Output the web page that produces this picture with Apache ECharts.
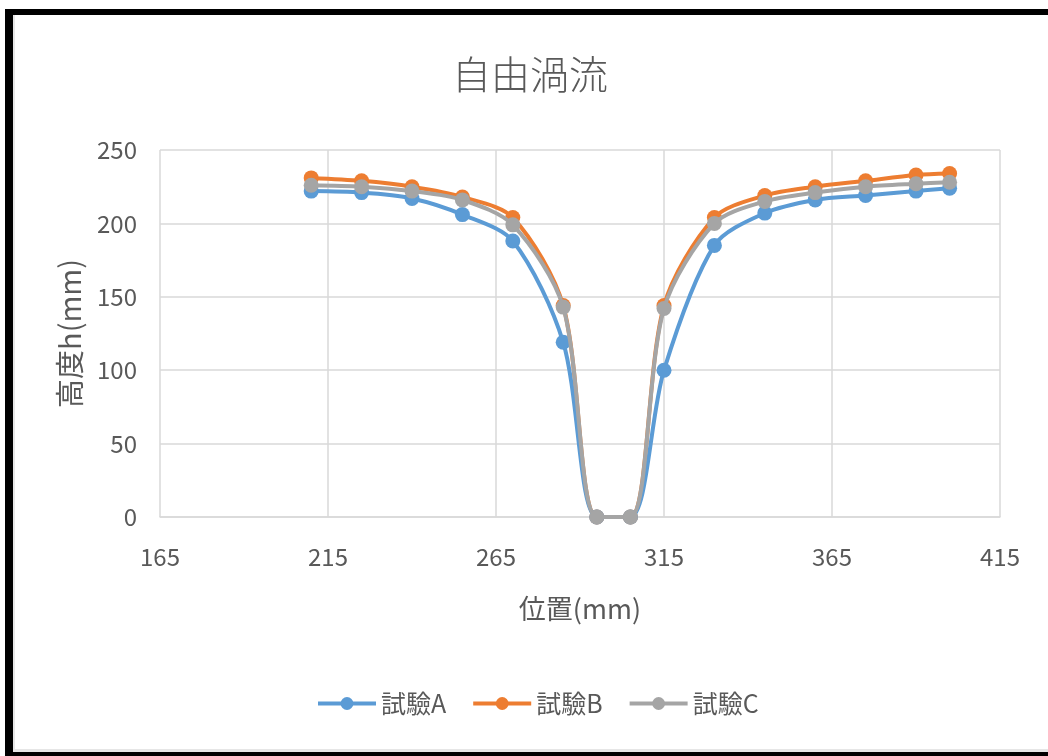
<!DOCTYPE html>
<html>
<head>
<meta charset="utf-8">
<script src="https://cdn.jsdelivr.net/npm/echarts@6/dist/echarts.min.js"></script>
<style>
html,body{margin:0;padding:0;background:#fff;}
#chart{width:1048px;height:756px;}
</style>
</head>
<body>
<div id="chart"></div>
<script>
const positions = [210, 225, 240, 255, 270, 285, 295, 305, 315, 330, 345, 360, 375, 390, 400];
const seriesNames = ['試驗A', '試驗B', '試驗C'];
const valuesA = [222, 221, 217, 206, 188, 119, 0, 0, 100, 185, 207, 216, 219, 222, 224];
const valuesB = [231, 229, 225, 218, 204, 144, 0, 0, 144, 204, 219, 225, 229, 233, 234];
const valuesC = [226, 225, 222, 216, 199, 143, 0, 0, 142, 200, 215, 221, 225, 227, 228];
const colors = ['#5B9BD5', '#ED7D31', '#A5A5A5'];

const chart = echarts.init(document.getElementById('chart'));
const font = "'Noto Sans CJK JP', 'Noto Sans', sans-serif";
const mk = (name, vals, color, z) => ({
  name: name,
  type: 'line',
  smooth: 0.3,
  data: positions.map((p, i) => [p, vals[i]]),
  symbol: 'circle',
  symbolSize: 15,
  z: z,
  itemStyle: { color: color },
  lineStyle: { color: color, width: 4 }
});
chart.setOption({
  animation: false,
  backgroundColor: '#fff',
  textStyle: { fontFamily: font },
  title: {
    text: '自由渦流',
    left: 447,
    top: 50,
    textStyle: { fontSize: 39, fontWeight: 300, color: '#595959', fontFamily: font }
  },
  grid: { left: 160, right: 48, top: 150, bottom: 239 },
  legend: {
    top: 686,
    left: 311,
    itemWidth: 58,
    itemHeight: 16,
    itemGap: 25,
    lineStyle: { width: 4 },
    textStyle: { fontSize: 25, color: '#595959', fontFamily: font },
    data: seriesNames
  },
  xAxis: {
    type: 'value',
    min: 165,
    max: 415,
    interval: 50,
    name: '位置(mm)',
    nameLocation: 'middle',
    nameGap: 78,
    nameTextStyle: { fontSize: 27, color: '#595959', fontFamily: font },
    axisLine: { show: true, lineStyle: { color: '#D9D9D9', width: 1.5 } },
    axisTick: { show: false },
    axisLabel: { fontSize: 24, color: '#595959', margin: 28, fontFamily: font },
    splitLine: { show: true, lineStyle: { color: '#D9D9D9', width: 1.5 } }
  },
  yAxis: {
    type: 'value',
    min: 0,
    max: 250,
    interval: 50,
    name: '高度h(mm)',
    nameLocation: 'middle',
    nameGap: 76,
    nameRotate: 90,
    nameTextStyle: { fontSize: 29, color: '#595959', fontFamily: font },
    axisLine: { show: false },
    axisTick: { show: false },
    axisLabel: { fontSize: 24, color: '#595959', margin: 23, fontFamily: font },
    splitLine: { show: true, lineStyle: { color: '#D9D9D9', width: 1.5 } }
  },
  graphic: [
    { type: 'rect', shape: { x: 5, y: 9, width: 8, height: 747 }, style: { fill: '#000' }, silent: true },
    { type: 'rect', shape: { x: 5, y: 9, width: 1043, height: 6 }, style: { fill: '#000' }, silent: true },
    { type: 'rect', shape: { x: 5, y: 752, width: 1043, height: 4 }, style: { fill: '#000' }, silent: true },
    { type: 'rect', shape: { x: 13, y: 15, width: 2, height: 737 }, style: { fill: '#E6E6E6' }, silent: true },
    { type: 'rect', shape: { x: 13, y: 749, width: 1035, height: 3 }, style: { fill: '#E6E6E6' }, silent: true }
  ],
  series: [
    mk(seriesNames[0], valuesA, colors[0], 3),
    mk(seriesNames[1], valuesB, colors[1], 2),
    mk(seriesNames[2], valuesC, colors[2], 4)
  ]
});
</script>
</body>
</html>
